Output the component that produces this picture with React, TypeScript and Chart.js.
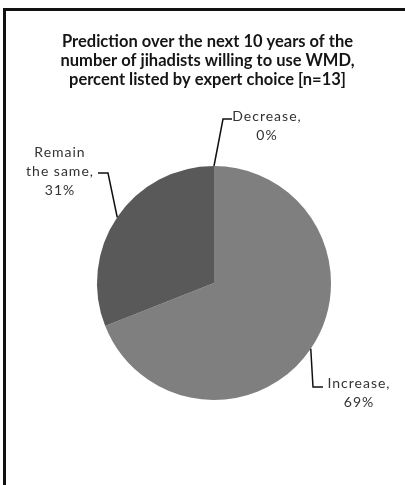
import React, { useEffect, useRef } from "react";
import { Chart, registerables } from "chart.js";

Chart.register(...registerables);

// ---- data ----
const TITLE_LINES = [
  "Prediction over the next 10 years of the",
  "number of jihadists willing to use WMD,",
  "percent listed by expert choice [n=13]",
];
const CATEGORIES = ["Decrease", "Increase", "Remain the same"];
const PERCENTS = [0, 69, 31];
const LABEL_LINES = [
  ["Decrease,", "0%"],
  ["Increase,", "69%"],
  ["Remain", "the same,", "31%"],
];

// ---- styles ----
const SLICE_COLORS = ["#7f7f7f", "#7f7f7f", "#595959"];
const FONT = "Lato, 'Open Sans', sans-serif";
// leader/label geometry relative to pie centre (px)
const LABEL_STYLE = [
  { elbow: [9, -164], end: [18, -164], text: [53, -167] },
  { elbow: [99, 104], end: [109, 104], text: [145, 100] },
  { elbow: [-106, -110], end: [-116, -110], text: [-154, -131] },
];
const LINE_GAP = 19;

const labelPlugin = {
  id: "excelLabels",
  afterDraw(chart: any) {
    const ctx = chart.ctx as CanvasRenderingContext2D;
    ctx.save();
    // title
    ctx.fillStyle = "#151515";
    ctx.font = `bold 16.5px ${FONT}`;
    ctx.textAlign = "center";
    ctx.textBaseline = "middle";
    TITLE_LINES.forEach((t, i) => ctx.fillText(t, 207.5, 42 + i * 19));

    const meta = chart.getDatasetMeta(0);
    meta.data.forEach((arc: any, i: number) => {
      const p = arc.getProps(["x", "y", "startAngle", "endAngle", "outerRadius"], true);
      const mid = (p.startAngle + p.endAngle) / 2;
      const ax = p.x + Math.cos(mid) * p.outerRadius;
      const ay = p.y + Math.sin(mid) * p.outerRadius;
      const st = LABEL_STYLE[i];
      ctx.strokeStyle = "#111";
      ctx.lineWidth = 1.5;
      ctx.beginPath();
      ctx.moveTo(ax, ay);
      ctx.lineTo(p.x + st.elbow[0], p.y + st.elbow[1]);
      ctx.lineTo(p.x + st.end[0], p.y + st.end[1]);
      ctx.stroke();
      ctx.fillStyle = "#333";
      ctx.font = `14px ${FONT}`;
      (ctx as any).letterSpacing = "1px";
      ctx.textAlign = "center";
      ctx.textBaseline = "middle";
      LABEL_LINES[i].forEach((t, j) =>
        ctx.fillText(t, p.x + st.text[0], p.y + st.text[1] + j * LINE_GAP)
      );
      (ctx as any).letterSpacing = "0px";
    });
    ctx.restore();
  },
};

export default function App() {
  const ref = useRef<HTMLCanvasElement | null>(null);
  useEffect(() => {
    if (!ref.current) return;
    const chart = new Chart(ref.current, {
      type: "pie",
      data: {
        labels: CATEGORIES,
        datasets: [
          {
            data: PERCENTS,
            backgroundColor: SLICE_COLORS,
            borderWidth: 0,
          },
        ],
      },
      options: {
        responsive: false,
        animation: false,
        devicePixelRatio: 1,
        layout: { padding: { left: 97, right: 74, top: 166, bottom: 85 } },
        plugins: {
          legend: { display: false },
          title: { display: false },
          tooltip: { enabled: false },
        },
      },
      plugins: [labelPlugin],
    });
    return () => chart.destroy();
  }, []);
  return (
    <div style={{ position: "fixed", left: 0, top: 0, width: 405, height: 485, background: "#fff" }}>
      <canvas ref={ref} width={405} height={485} style={{ position: "absolute", left: 0, top: 0 }} />
      <div
        style={{
          position: "absolute",
          left: 3,
          top: 8,
          width: 402,
          height: 477,
          borderTop: "3px solid #111",
          borderLeft: "3px solid #111",
          boxSizing: "border-box",
        }}
      />
    </div>
  );
}
